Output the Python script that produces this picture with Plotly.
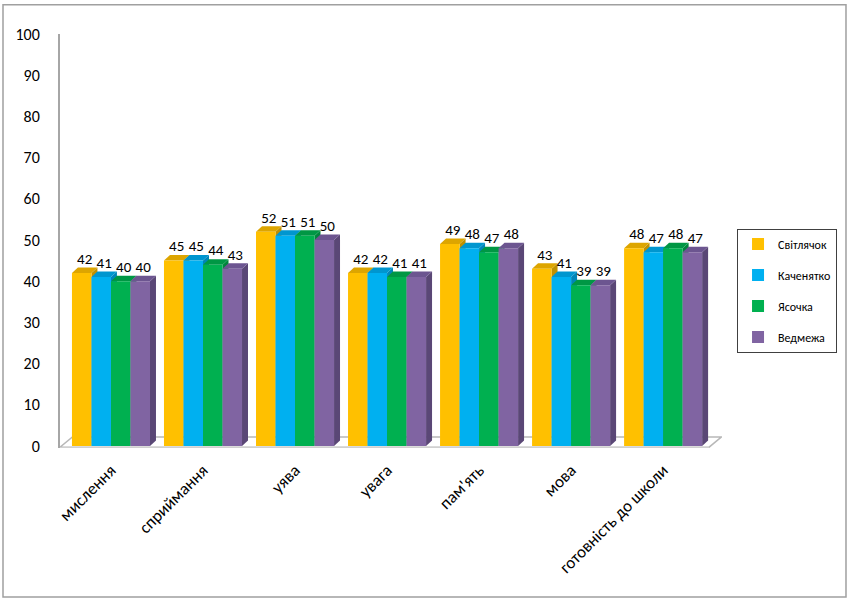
import plotly.graph_objects as go

categories = ["мислення", "сприймання", "уява", "увага", "пам'ять", "мова", "готовність до школи"]
series_names = ["Світлячок", "Каченятко", "Ясочка", "Ведмежа"]
svitlyachok = [42, 45, 52, 42, 49, 43, 48]
kachenyatko = [41, 45, 51, 42, 48, 41, 47]
yasochka = [40, 44, 51, 41, 47, 39, 48]
vedmezha = [40, 43, 50, 41, 48, 39, 47]
y_ticks = [0, 10, 20, 30, 40, 50, 60, 70, 80, 90, 100]

series_values = [svitlyachok, kachenyatko, yasochka, vedmezha]
front_colors = ["#FFC000", "#00B0F0", "#00B050", "#8064A2"]
top_colors = ["#DDA500", "#0096CF", "#009744", "#6C5590"]
side_colors = ["#BF9000", "#0085B8", "#00853C", "#5A4776"]

FONT = "Calibri, Carlito, 'Noto Sans', sans-serif"
bargap = 0.152
n = len(series_values)
bw = (1 - bargap) / n
dx = 0.065   # depth offset in x units
dy = 1.33    # depth offset in y units

fig = go.Figure()
xs = list(range(len(categories)))

shapes = []
# floor
xl, xr = -0.554, 6.5
shapes.append(dict(type="path", xref="x", yref="y",
                   path=f"M{xl},-0.3 L{xl+0.135},2.2 L{xr+0.135},2.2 L{xr},-0.3 Z",
                   fillcolor="#FFFFFF", line=dict(color="#B8B8B8", width=1.5), layer="below"))
shapes.append(dict(type="path", xref="x", yref="y",
                   path=f"M{xl},-0.3 L{xr},-0.3 L{xr},-0.5 L{xl},-0.5 Z",
                   fillcolor="#D9D9D9", line=dict(width=0), layer="below"))

label_x, label_y, label_t = [], [], []
for i in xs:
    for j in range(n):
        v = series_values[j][i]
        x0 = i - (1 - bargap) / 2 + j * bw
        x1 = x0 + bw
        # side face
        shapes.append(dict(type="path", xref="x", yref="y",
                           path=f"M{x1},0 L{x1+dx},{dy} L{x1+dx},{v+dy} L{x1},{v} Z",
                           fillcolor=side_colors[j], line=dict(width=0), layer="below"))
        # top face
        shapes.append(dict(type="path", xref="x", yref="y",
                           path=f"M{x0},{v} L{x0+dx},{v+dy} L{x1+dx},{v+dy} L{x1},{v} Z",
                           fillcolor=top_colors[j], line=dict(width=0), layer="below"))
        label_x.append((x0 + x1) / 2 + dx / 2)
        label_y.append(v + dy)
        label_t.append(str(v))

for j in range(n):
    fig.add_trace(go.Bar(x=xs, y=series_values[j], name=series_names[j],
                         marker=dict(color=front_colors[j], line=dict(width=0)),
                         legendgroup=series_names[j], hoverinfo="skip"))

fig.add_trace(go.Scatter(x=label_x, y=label_y, text=label_t, mode="text",
                         textposition="top center", showlegend=False, cliponaxis=False,
                         textfont=dict(family=FONT, size=15, color="#000000"), hoverinfo="skip"))

# outer chart border
shapes.append(dict(type="rect", xref="paper", yref="paper",
                   x0=-0.0861, x1=1.1873, y0=-0.3597, y1=1.0704,
                   line=dict(color="#A0A0A0", width=1.5), fillcolor="rgba(0,0,0,0)", layer="above"))

fig.update_layout(
    width=851, height=600,
    margin=dict(l=60, r=129, t=34, b=152),
    paper_bgcolor="white", plot_bgcolor="white",
    barmode="group", bargap=bargap, bargroupgap=0,
    shapes=shapes,
    font=dict(family=FONT, size=13, color="#000000"),
    xaxis=dict(range=[-0.554, 6.64], tickmode="array", tickvals=xs, ticktext=categories,
               tickangle=-45, showgrid=False, zeroline=False, showline=False, ticks="",
               ticklabelstandoff=8, tickfont=dict(family=FONT, size=17, color="#000000")),
    yaxis=dict(range=[-0.5, 100], tickmode="array", tickvals=y_ticks, showgrid=False,
               zeroline=False, showline=True, linecolor="#A6A6A6", linewidth=2, ticks="",
               ticklabelstandoff=15, tickfont=dict(family=FONT, size=16, color="#000000")),
    legend=dict(x=1.0227, y=0.53, xanchor="left", yanchor="top",
                bordercolor="#404040", borderwidth=1, bgcolor="white",
                tracegroupgap=12, font=dict(family=FONT, size=12, color="#000000")),
    showlegend=True,
)

fig.write_html("out.html")
